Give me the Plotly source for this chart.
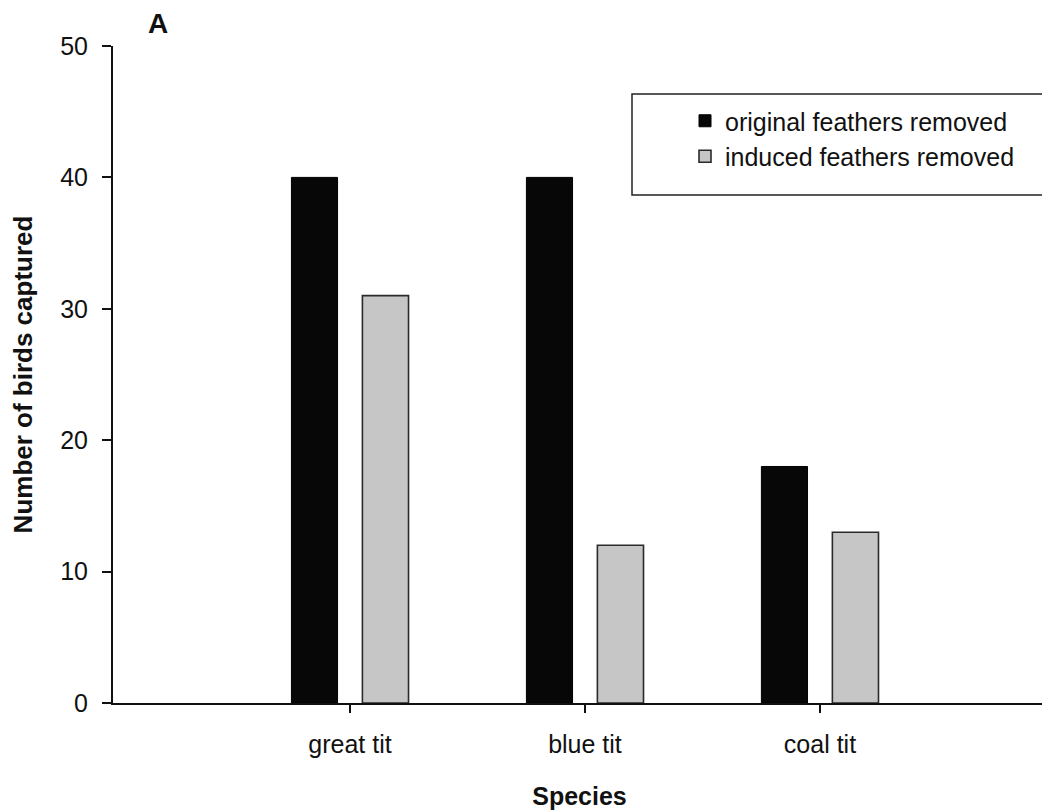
import plotly.graph_objects as go

species = ["great tit", "blue tit", "coal tit"]
original_removed = [40, 40, 18]
induced_removed = [31, 12, 13]
y_ticks = [0, 10, 20, 30, 40, 50]

FONT = "Arial, Liberation Sans, Helvetica, sans-serif"
INK = "#111111"

fig = go.Figure()
fig.add_trace(go.Bar(
    x=species, y=original_removed, name="original feathers removed",
    marker=dict(color="#070707", line=dict(color="#000000", width=1)),
))
fig.add_trace(go.Bar(
    x=species, y=induced_removed, name="induced feathers removed",
    marker=dict(color="#c6c6c6", line=dict(color="#2a2a2a", width=1.6)),
))

W, H = 1042, 804
L, R, T, B = 105, 4, 38, 109
pw = W - L - R
ph = H - T - B


def px(x):
    return (x - L) / pw


def py(y):
    return (H - B - y) / ph


fig.update_layout(
    width=W, height=H,
    margin=dict(l=L, r=R, t=T, b=B, autoexpand=False),
    plot_bgcolor="white", paper_bgcolor="white",
    barmode="group", bargap=0.396, bargroupgap=0.35,
    font=dict(family=FONT, size=25, color=INK),
    showlegend=True,
    legend=dict(
        x=px(677), y=py(90), xanchor="left", yanchor="top",
        bgcolor="rgba(0,0,0,0)", borderwidth=0,
        font=dict(size=25, family=FONT, color=INK),
        traceorder="normal",
    ),
    xaxis=dict(
        type="category", range=[-1.0085, 2.962],
        showline=True, linecolor=INK, linewidth=2,
        ticks="outside", ticklen=8, tickwidth=2, tickcolor=INK,
        ticklabelstandoff=10,
        tickfont=dict(size=25),
        showgrid=False, zeroline=False,
        title=dict(text="<b>Species</b>", font=dict(size=25), standoff=30),
    ),
    yaxis=dict(
        range=[0, 50], tickvals=y_ticks,
        showline=True, linecolor=INK, linewidth=2,
        ticks="outside", ticklen=9, tickwidth=2, tickcolor=INK,
        ticklabelstandoff=9,
        tickfont=dict(size=25),
        showgrid=False, zeroline=False,
        title=dict(text="<b>Number of birds captured</b>", font=dict(size=26), standoff=20),
    ),
    shapes=[dict(
        type="rect", xref="paper", yref="paper",
        x0=px(624), x1=px(1039), y0=py(187), y1=py(86),
        line=dict(color="#222222", width=1.5), fillcolor="rgba(0,0,0,0)",
    )],
    annotations=[dict(
        text="<b>A</b>", xref="paper", yref="paper",
        x=px(150), y=py(16), xanchor="center", yanchor="middle",
        showarrow=False, font=dict(size=28, family=FONT, color=INK),
    )],
)

fig.write_html("out.html")
